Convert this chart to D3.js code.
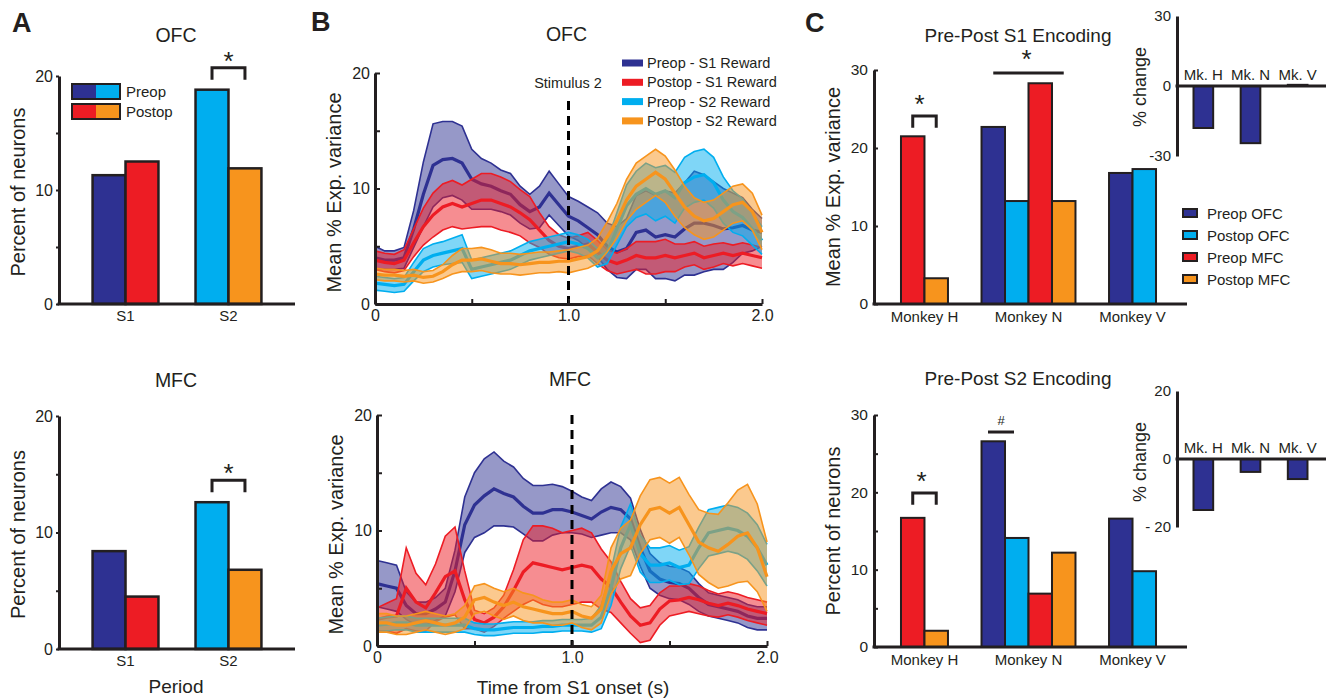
<!DOCTYPE html>
<html>
<head>
<meta charset="utf-8">
<script src="https://cdn.jsdelivr.net/npm/d3@7"></script>
<style>
  body { margin: 0; background: #fff; }
  svg { font-family: "Liberation Sans", Arial, sans-serif; }
</style>
</head>
<body>
<svg width="1334" height="700"></svg>
<script>
// ---- data ----
// panel A: percent of neurons
const catsA = ["S1", "S2"];
const periods = ["Preop", "Postop"];
const ofcPreop = [11.3, 18.8];
const ofcPostop = [12.5, 11.9];
const mfcPreop = [8.4, 12.6];
const mfcPostop = [4.5, 6.8];

// panel B: mean % explained variance, mean and sem every 50 ms
const timeS = [0, 0.05, 0.1, 0.15, 0.2, 0.25, 0.3, 0.35, 0.4, 0.45, 0.5, 0.55, 0.6, 0.65, 0.7, 0.75, 0.8, 0.85, 0.9, 0.95,
  1.0, 1.05, 1.1, 1.15, 1.2, 1.25, 1.3, 1.35, 1.4, 1.45, 1.5, 1.55, 1.6, 1.65, 1.7, 1.75, 1.8, 1.85, 1.9, 1.95, 2.0];

const ofcPreS1Mean = [4.0,3.8,3.8,4.0,6.5,9.5,12.0,12.5,12.6,12.2, 10.8,10.4,10.2,9.8,9.5,8.6,8.0,8.4,9.6,8.6, 7.6,7.2,6.6,6.0,5.0,4.5,4.8,6.2,6.4,5.8, 6.0,5.8,6.5,7.0,7.0,6.8,6.5,6.6,6.8,6.4, 6.2];
const ofcPreS1Sem  = [1.0,0.8,0.8,0.9,1.6,2.8,3.6,3.3,3.2,3.2, 2.6,2.2,2.0,1.8,1.8,1.6,1.5,1.8,1.9,1.8, 1.7,1.7,1.8,1.9,2.0,2.2,2.6,3.2,3.4,3.6, 3.8,3.8,4.0,4.5,4.2,3.8,3.5,3.0,2.4,1.8, 1.2];
const ofcPostS1Mean = [3.8,3.6,3.5,3.8,5.3,6.7,7.7,8.4,8.7,8.4, 8.7,9.0,9.0,8.7,8.4,7.9,7.3,6.4,5.5,5.0, 4.8,5.0,5.2,4.5,3.8,3.5,3.8,4.2,4.0,4.0, 4.2,4.0,4.2,4.4,4.0,4.2,4.4,4.2,4.4,4.2, 4.0];
const ofcPostS1Sem  = [0.8,0.8,0.8,0.9,1.2,1.6,1.9,2.0,2.0,1.9, 2.1,2.3,2.3,2.3,2.2,2.0,2.0,1.5,1.2,1.0, 0.9,0.9,1.0,1.0,0.9,0.9,1.0,1.2,1.4,1.4, 1.4,1.2,1.0,1.0,1.0,1.0,0.9,0.9,0.9,0.9, 0.9];
const ofcPreS2Mean = [1.8,1.7,1.6,1.7,2.8,3.8,4.2,4.4,4.6,4.8, 3.0,3.2,3.4,3.6,3.8,4.2,4.6,4.8,5.0,5.2, 5.4,5.2,4.8,4.0,4.5,6.5,8.5,9.5,10.0,9.5, 9.8,9.2,10.5,11.0,11.2,10.5,9.0,8.0,7.5,6.5, 5.5];
const ofcPreS2Sem  = [0.6,0.6,0.6,0.6,0.8,1.0,1.0,1.0,1.1,1.2, 0.8,0.8,0.8,0.8,0.8,0.8,0.8,0.8,0.8,0.8, 0.8,0.8,0.8,0.8,1.0,1.4,1.8,2.0,2.2,2.3, 2.2,2.2,2.2,2.2,2.2,2.2,2.0,1.8,1.6,1.4, 1.2];
const ofcPostS2Mean = [2.6,2.5,2.5,2.4,2.5,2.3,2.4,2.8,3.4,3.8, 3.8,3.9,3.7,3.5,3.5,3.4,3.5,3.6,3.6,3.7, 3.7,3.9,4.1,4.6,5.8,7.2,9.0,10.2,10.8,11.4, 10.8,9.6,8.4,7.6,7.2,7.4,8.0,8.6,8.8,8.0, 6.2];
const ofcPostS2Sem  = [0.5,0.5,0.5,0.5,0.5,0.5,0.5,0.6,0.8,1.0, 1.0,1.0,1.0,0.9,0.9,0.9,0.9,0.9,0.9,0.9, 1.0,1.0,1.0,1.1,1.3,1.5,1.8,2.0,2.0,2.0, 2.0,2.0,1.8,1.6,1.6,1.6,1.6,1.6,1.6,1.6, 1.5];

const mfcPreS1Mean = [5.4,5.2,5.0,3.5,2.8,2.8,3.2,3.8,6.5,10.5, 12.2,13.0,13.6,13.2,12.9,12.1,11.5,11.5,11.8,11.8, 11.6,11.3,11.0,11.6,12.0,11.8,11.0,8.5,6.5,5.8, 5.5,5.4,5.0,4.2,3.6,3.4,3.2,3.0,2.6,2.4, 2.4];
const mfcPreS1Sem  = [2.0,2.0,2.0,1.2,1.0,1.0,1.0,1.2,1.8,2.4, 2.8,3.2,3.2,2.8,2.6,2.4,2.4,2.4,2.2,2.0, 1.8,1.6,1.6,2.0,2.2,2.0,1.8,1.6,1.5,1.4, 1.4,1.4,1.4,1.2,1.0,1.0,1.0,1.0,1.0,1.0, 1.0];
const mfcPostS1Mean = [2.3,2.5,2.6,5.0,3.8,3.3,4.6,6.0,6.5,4.0, 2.3,2.0,2.5,3.4,4.8,6.4,7.2,7.0,6.8,6.6, 6.8,7.0,6.8,5.8,5.1,3.8,2.6,1.8,2.0,3.2, 3.9,4.0,4.2,4.0,3.7,3.5,3.7,3.5,3.2,3.0, 2.8];
const mfcPostS1Sem  = [1.0,1.2,1.5,3.5,2.5,2.0,2.5,3.5,3.8,2.5, 0.8,0.8,0.8,1.0,1.8,2.8,3.2,3.4,3.4,3.2, 3.2,3.2,3.0,2.6,2.2,1.8,1.5,1.5,1.5,1.4, 1.3,1.2,1.2,1.2,1.1,1.0,1.0,1.0,1.0,1.0, 1.0];
const mfcPreS2Mean = [1.8,1.9,2.0,2.0,1.8,1.8,1.8,1.8,1.8,1.8, 1.5,1.4,1.4,1.5,1.6,1.6,1.6,1.7,1.7,1.8, 1.8,1.8,1.8,2.5,5.0,8.5,10.5,8.0,7.0,7.0, 7.2,6.8,7.0,8.5,9.8,10.0,10.2,10.0,9.5,8.5, 7.0];
const mfcPreS2Sem  = [0.6,0.6,0.6,0.6,0.6,0.6,0.6,0.6,0.6,0.6, 0.5,0.5,0.5,0.5,0.5,0.5,0.5,0.5,0.5,0.5, 0.5,0.5,0.6,1.0,1.5,1.8,1.8,1.6,1.5,1.5, 1.5,1.5,1.6,1.8,2.0,2.0,2.0,2.0,2.0,2.0, 1.8];
const mfcPostS2Mean = [2.0,2.0,1.8,1.8,2.0,2.2,2.0,1.8,2.0,2.5, 4.0,4.2,3.8,3.5,3.8,3.4,3.2,3.0,2.8,2.8, 3.0,2.6,2.4,3.2,6.5,8.0,8.5,10.5,11.8,12.0, 11.5,12.0,10.5,9.0,8.5,8.2,8.8,9.5,9.8,8.5, 6.0];
const mfcPostS2Sem  = [0.8,0.8,0.8,0.8,0.8,0.8,0.8,0.8,0.8,1.0, 1.2,1.2,1.2,1.2,1.2,1.2,1.2,1.0,1.0,1.0, 1.0,1.0,1.0,1.2,2.0,2.2,2.4,2.5,2.6,2.6, 2.6,2.6,2.6,2.8,3.0,3.2,3.6,4.0,4.2,3.8, 3.0];

const traceNames = ["Preop - S1 Reward", "Postop - S1 Reward", "Preop - S2 Reward", "Postop - S2 Reward"];

// panel C: per monkey (null = not recorded)
const monkeys = ["Monkey H", "Monkey N", "Monkey V"];
const condsC = ["Preop OFC", "Postop OFC", "Preop MFC", "Postop MFC"];
const s1PreOfc = [null, 22.7, 16.8];
const s1PostOfc = [null, 13.2, 17.3];
const s1PreMfc = [21.5, 28.3, null];
const s1PostMfc = [3.3, 13.2, null];
const s2PreOfc = [null, 26.6, 16.6];
const s2PostOfc = [null, 14.1, 9.8];
const s2PreMfc = [16.7, 6.9, null];
const s2PostMfc = [2.1, 12.2, null];
const mkLabels = ["Mk. H", "Mk. N", "Mk. V"];
const s1Change = [-18, -24.5, 0.5];
const s2Change = [-15, -3.8, -5.9];

// ---- styles ----
const ink = "#231f20";
const navy = "#2e3192", red = "#ed1c24", cyan = "#00aeef", orange = "#f7941d";
const colorA = {S1: {Preop: navy, Postop: red}, S2: {Preop: cyan, Postop: orange}};
const colorC = [navy, cyan, red, orange];
const traceColors = [navy, red, cyan, orange];

const svg = d3.select("svg");

function label(x, y, s, size, opts = {}) {
  const t = svg.append("text").attr("x", x).attr("y", y).text(s)
    .attr("font-size", size).attr("fill", ink)
    .attr("text-anchor", opts.anchor || "middle");
  if (opts.rotate) t.attr("transform", `rotate(-90,${x},${y})`);
  if (opts.bold) t.attr("font-weight", "bold");
  return t;
}

function styleAxis(g, fs) {
  g.attr("font-family", null).attr("font-size", fs);
  g.select(".domain").attr("stroke", ink).attr("stroke-width", 3);
  g.selectAll(".tick line").attr("stroke", ink).attr("stroke-width", 2);
  g.selectAll(".tick text").attr("fill", ink);
}

function hline(x1, x2, y, w = 3) {
  svg.append("line").attr("x1", x1).attr("x2", x2).attr("y1", y).attr("y2", y)
    .attr("stroke", ink).attr("stroke-width", w);
}

function bracket(x1, x2, yTop, yFoot) {
  svg.append("path").attr("d", `M${x1},${yFoot}V${yTop}H${x2}V${yFoot}`)
    .attr("fill", "none").attr("stroke", ink).attr("stroke-width", 3);
}

// ---- panel A ----
function drawA(top, bottom, pre, post, title, titleY) {
  const y = d3.scaleLinear().domain([0, 20]).range([bottom, top]);
  const x = d3.scaleBand().domain(catsA).range([59, 295]).paddingInner(0.36).paddingOuter(0.326);
  const xi = d3.scaleBand().domain(periods).range([0, x.bandwidth()]);
  const rows = catsA.flatMap((c, i) => [{c, p: "Preop", v: pre[i]}, {c, p: "Postop", v: post[i]}]);
  svg.append("g").selectAll("rect").data(rows).join("rect")
    .attr("x", d => x(d.c) + xi(d.p)).attr("width", xi.bandwidth())
    .attr("y", d => y(d.v)).attr("height", d => y(0) - y(d.v))
    .attr("fill", d => colorA[d.c][d.p]).attr("stroke", ink).attr("stroke-width", 2.5);

  const ga = svg.append("g").attr("transform", "translate(59,0)")
    .call(d3.axisLeft(y).tickValues([0, 5, 10, 15, 20]).tickSize(3).tickSizeOuter(0).tickPadding(3)
      .tickFormat(d => d % 10 === 0 ? d : ""));
  styleAxis(ga, 16);
  hline(57.5, 295, y(0));
  catsA.forEach(c => label(x(c) + x.bandwidth() / 2, bottom + 17, c, 15));
  label(176, titleY, title, 19.5);
  label(25, (top + bottom) / 2 + 2, "Percent of neurons", 20, {rotate: true});

  // significance over S2
  const bx1 = x("S2") + xi("Preop") + xi.bandwidth() / 2;
  const bx2 = x("S2") + xi("Postop") + xi.bandwidth() / 2;
  const level = d3.max([pre[1], post[1]]);
  bracket(bx1, bx2, y(level) - 22, y(level) - 10);
  label((bx1 + bx2) / 2, y(level) - 20, "*", 26);
}

drawA(76, 304, ofcPreop, ofcPostop, "OFC", 42);
drawA(416, 649, mfcPreop, mfcPostop, "MFC", 387);
label(176, 693, "Period", 19);

// legend A
periods.forEach((p, i) => {
  const yy = 84 + i * 20;
  catsA.forEach((c, j) => {
    svg.append("rect").attr("x", 72 + j * 24).attr("y", yy).attr("width", 24).attr("height", 15)
      .attr("fill", colorA[c][p]);
  });
  svg.append("rect").attr("x", 72).attr("y", yy).attr("width", 48).attr("height", 15)
    .attr("fill", "none").attr("stroke", ink).attr("stroke-width", 2);
  label(126, yy + 13, p, 15, {anchor: "start"});
});

// ---- panel B ----
function drawB(left, right, top, bottom, means, sems, title, titleY, dashTop) {
  const x = d3.scaleLinear().domain([0, 2]).range([left, right]);
  const y = d3.scaleLinear().domain([0, 20]).range([bottom, top]);
  const g = svg.append("g");
  means.forEach((mean, k) => {
    const sem = sems[k], col = traceColors[k];
    const lo = (d, i) => y(Math.max(0.05, mean[i] - sem[i]));
    const hi = (d, i) => y(mean[i] + sem[i]);
    const px = (d, i) => x(timeS[i]);
    g.append("path").datum(mean).attr("d", d3.area().x(px).y0(lo).y1(hi))
      .attr("fill", col).attr("fill-opacity", 0.5);
    [lo, hi].forEach(f => g.append("path").datum(mean).attr("d", d3.line().x(px).y(f))
      .attr("fill", "none").attr("stroke", col).attr("stroke-width", 1.6));
    g.append("path").datum(mean).attr("d", d3.line().x(px).y(d => y(d)))
      .attr("fill", "none").attr("stroke", col).attr("stroke-width", 3.2);
  });
  svg.append("line").attr("x1", x(1)).attr("x2", x(1)).attr("y1", dashTop).attr("y2", bottom)
    .attr("stroke", "#000").attr("stroke-width", 3).attr("stroke-dasharray", "9,6");

  const gy = svg.append("g").attr("transform", `translate(${left},0)`)
    .call(d3.axisLeft(y).tickValues([0, 5, 10, 15, 20]).tickSize(-5).tickSizeOuter(0).tickPadding(5)
      .tickFormat(d => d % 10 === 0 ? d : ""));
  styleAxis(gy, 16);
  const gx = svg.append("g").attr("transform", `translate(0,${bottom})`)
    .call(d3.axisBottom(x).tickValues([0, 0.5, 1, 1.5, 2]).tickSize(-5).tickSizeOuter(0).tickPadding(6)
      .tickFormat(d => d === 0 ? "0" : (d % 1 === 0 ? d.toFixed(1) : "")));
  styleAxis(gx, 16);
  label((left + right) / 2 - 2, titleY, title, 19.5);
  label(left - 34, (top + bottom) / 2 + 4, "Mean % Exp. variance", 20, {rotate: true});
}

drawB(375, 762, 73, 304,
  [ofcPreS1Mean, ofcPostS1Mean, ofcPreS2Mean, ofcPostS2Mean],
  [ofcPreS1Sem, ofcPostS1Sem, ofcPreS2Sem, ofcPostS2Sem], "OFC", 41, 101);
drawB(377, 767, 415, 646,
  [mfcPreS1Mean, mfcPostS1Mean, mfcPreS2Mean, mfcPostS2Mean],
  [mfcPreS1Sem, mfcPostS1Sem, mfcPreS2Sem, mfcPostS2Sem], "MFC", 386, 415);
label(568, 88, "Stimulus 2", 14.5);
label(573, 694, "Time from S1 onset (s)", 19);

traceNames.forEach((n, i) => {
  const yy = 63 + i * 19.3;
  svg.append("rect").attr("x", 622).attr("y", yy - 3.5).attr("width", 21).attr("height", 7).attr("fill", traceColors[i]);
  label(647, yy + 5, n, 14.5, {anchor: "start"});
});

// ---- panel C ----
function drawC(top, bottom, vals, title, titleY, yTitle, minor, sig) {
  const y = d3.scaleLinear().domain([0, 30]).range([bottom, top]);
  const x = d3.scaleBand().domain(monkeys).range([854, 1203]).paddingInner(0.263);
  const xi = d3.scaleBand().domain(condsC).range([0, x.bandwidth()]);
  const rows = [];
  monkeys.forEach((m, i) => condsC.forEach((c, j) => {
    if (vals[j][i] !== null) rows.push({m, c, j, v: vals[j][i]});
  }));
  svg.append("g").selectAll("rect").data(rows).join("rect")
    .attr("x", d => x(d.m) + xi(d.c)).attr("width", xi.bandwidth())
    .attr("y", d => y(d.v)).attr("height", d => y(0) - y(d.v))
    .attr("fill", d => colorC[d.j]).attr("stroke", ink).attr("stroke-width", 2);

  const tv = minor ? [0, 5, 10, 15, 20, 25, 30] : [0, 10, 20, 30];
  const gy = svg.append("g").attr("transform", "translate(874,0)")
    .call(d3.axisLeft(y).tickValues(tv).tickSize(-4).tickSizeOuter(0).tickPadding(6)
      .tickFormat(d => d % 10 === 0 ? d : ""));
  styleAxis(gy, 15.5);
  hline(872.5, 1187, y(0));
  const cx = d => x(d.m) + xi(d.c) + xi.bandwidth() / 2;
  monkeys.forEach(m => {
    const present = rows.filter(r => r.m === m);
    label(d3.mean(present, cx), bottom + 18, m, 15);
  });
  label(1018, titleY, title, 19);
  label(840, (top + bottom) / 2, yTitle, 20, {rotate: true});
  sig(x, xi, y);
}

drawC(70, 304, [s1PreOfc, s1PostOfc, s1PreMfc, s1PostMfc], "Pre-Post S1 Encoding", 42, "Mean % Exp. variance", false,
  (x, xi, y) => {
    const c = (m, k) => x(m) + xi(condsC[k]) + xi.bandwidth() / 2;
    bracket(c("Monkey H", 2), c("Monkey H", 3), y(24.1), y(22.6));
    label((c("Monkey H", 2) + c("Monkey H", 3)) / 2 - 5, y(24.1) - 3, "*", 26);
    hline(c("Monkey N", 0), c("Monkey N", 3), y(29.6));
    label(x("Monkey N") + x.bandwidth() / 2 - 2, y(29.6) - 5, "*", 26);
  });
drawC(415, 647, [s2PreOfc, s2PostOfc, s2PreMfc, s2PostMfc], "Pre-Post S2 Encoding", 385, "Percent of neurons", true,
  (x, xi, y) => {
    const c = (m, k) => x(m) + xi(condsC[k]) + xi.bandwidth() / 2;
    bracket(c("Monkey H", 2), c("Monkey H", 3), y(19.9), y(18.4));
    label((c("Monkey H", 2) + c("Monkey H", 3)) / 2 - 3, y(19.9) - 3, "*", 26);
    const e = x("Monkey N") + xi("Postop OFC");
    hline(e - 17, e + 9, y(27.8));
    label(e - 4, y(27.8) - 7, "#", 13);
  });

// insets
function drawInset(top, bottom, vals, lim, fmt, labelY) {
  const y = d3.scaleLinear().domain([-lim, lim]).range([bottom, top]);
  const x = d3.scaleBand().domain(mkLabels).range([1177, 1324]).paddingInner(0.583).paddingOuter(0.35);
  svg.append("g").selectAll("rect").data(vals).join("rect")
    .attr("x", (d, i) => x(mkLabels[i])).attr("width", x.bandwidth())
    .attr("y", d => y(Math.max(0, d))).attr("height", d => Math.abs(y(d) - y(0)))
    .attr("fill", navy).attr("stroke", ink).attr("stroke-width", 2);
  const gy = svg.append("g").attr("transform", "translate(1177,0)")
    .call(d3.axisLeft(y).tickValues([-lim, 0, lim]).tickSize(0).tickSizeOuter(0).tickPadding(6).tickFormat(fmt));
  styleAxis(gy, 15);
  hline(1175.5, 1326, y(0));
  mkLabels.forEach(m => label(x(m) + x.bandwidth() / 2, y(0) - 6, m, 15));
  label(1146, labelY, "% change", 18, {rotate: true});
}
drawInset(16, 156, s1Change, 30, d => d, 87);
drawInset(391, 527, s2Change, 20, d => d < 0 ? "- " + (-d) : d, 462);

// legend C
condsC.forEach((n, i) => {
  const yy = 213 + i * 22;
  svg.append("rect").attr("x", 1183).attr("y", yy - 4).attr("width", 14).attr("height", 8)
    .attr("fill", colorC[i]).attr("stroke", ink).attr("stroke-width", 2);
  label(1207, yy + 5.5, n, 15, {anchor: "start"});
});

// panel letters
label(12, 32, "A", 27, {anchor: "start", bold: true});
label(311, 31, "B", 27, {anchor: "start", bold: true});
label(805, 32, "C", 27, {anchor: "start", bold: true});
</script>
</body>
</html>
